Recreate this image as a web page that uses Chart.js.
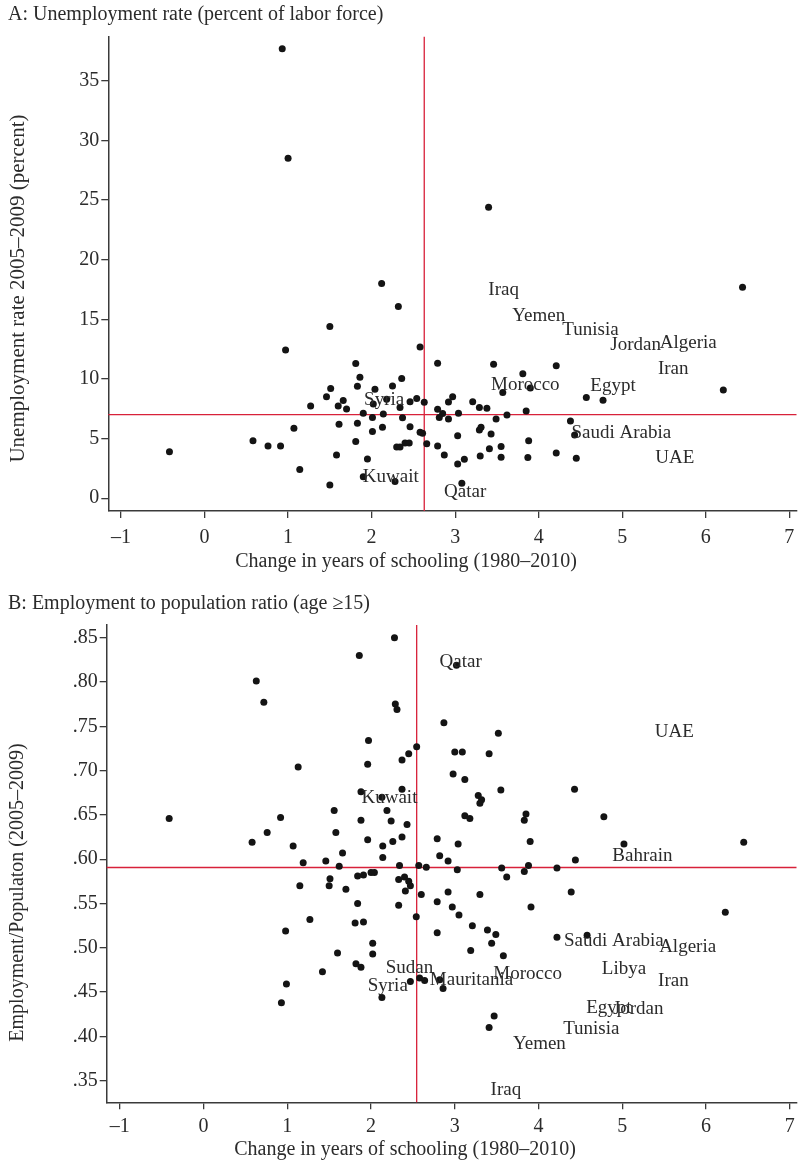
<!DOCTYPE html>
<html>
<head>
<meta charset="utf-8">
<script src="https://cdn.jsdelivr.net/npm/chart.js@4.4.1/dist/chart.umd.min.js"></script>
<style>
    html, body { margin: 0; padding: 0; background: #fff; }
    #wrap { position: relative; width: 800px; height: 1163px; }
    .panel { position: absolute; left: 0; width: 800px; }
    #panelA { top: 0; height: 575px; }
    #panelB { top: 575px; height: 588px; }
</style>
</head>
<body>
<div id="wrap">
    <div class="panel" id="panelA"><canvas id="chartA"></canvas></div>
    <div class="panel" id="panelB"><canvas id="chartB"></canvas></div>
</div>
<script>
// ---- Дані: панель A (безробіття) ----
const schoolA = [0.93,1.00,2.12,3.40,6.44,-0.42,0.58,0.76,0.91,0.97,1.07,1.14,1.27,1.50,1.50,1.46,1.51,1.58,1.60,1.61,1.66,1.70,1.81,1.81,1.83,1.83,1.86,1.90,1.90,1.95,2.01,2.01,2.04,2.02,2.13,2.14,2.18,2.25,2.28,2.30,2.34,2.40,2.45,2.32,2.58,2.36,2.34,2.46,2.54,2.63,2.37,2.46,2.58,2.61,2.66,2.79,3.46,4.21,3.81,3.57,3.90,2.97,2.92,3.21,3.29,3.38,2.79,2.85,2.81,2.92,3.04,3.49,3.62,3.85,2.79,3.03,3.29,3.31,3.43,3.41,3.55,3.88,2.87,3.03,3.11,3.30,3.55,3.87,4.21,3.08,4.38,4.43,4.45,4.57,4.77,6.21];
const unempA = [37.7,28.5,18.0,24.4,17.7,3.9,4.83,4.39,4.39,12.44,5.87,2.4,7.74,14.4,1.12,8.5,9.2,3.63,7.74,6.2,8.19,7.49,4.75,11.29,9.39,6.29,10.15,1.81,7.13,3.3,6.76,5.59,9.14,7.9,5.96,7.07,8.3,9.42,1.41,4.3,4.3,4.64,4.64,16.07,12.69,10.03,7.6,8.1,8.36,8.05,6.74,6.0,5.54,5.45,4.57,11.32,11.24,11.1,10.43,8.86,9.25,8.52,8.08,8.1,7.6,7.55,7.47,7.1,6.76,6.65,7.13,6.65,6.99,7.32,4.39,5.25,5.73,5.96,5.39,4.16,4.33,4.83,3.63,2.88,3.27,3.55,3.44,3.41,3.8,1.26,6.48,5.31,3.35,8.44,8.22,9.08];
const namesA = ['Iraq','Yemen','Tunisia','Jordan','Algeria','Iran','Morocco','Egypt','Saudi Arabia','UAE','Qatar','Kuwait','Syria'];
const labelSchoolA = [3.58,4.00,4.62,5.16,5.79,5.61,3.84,4.89,4.99,5.63,3.12,2.23,2.15];
const labelUnempA = [17.45,15.3,14.1,12.86,13.05,10.82,9.5,9.42,5.45,3.35,0.5,1.81,8.25];
const meanSchoolA = 2.63;
const meanUnempA = 7.01;
const yTicksA = [0,5,10,15,20,25,30,35];

// ---- Дані: панель B (зайнятість) ----
const schoolB = [-0.41,0.63,0.72,1.13,0.92,0.76,0.58,1.07,2.28,1.86,2.29,2.31,1.97,1.96,2.545,2.45,2.37,2.37,1.88,2.13,2.19,1.56,1.88,2.24,2.43,1.58,1.96,2.26,2.14,2.37,1.66,2.14,1.19,1.46,1.62,2.34,2.57,2.66,1.15,1.51,1.50,1.70,1.84,1.91,2.00,2.04,2.33,2.40,2.45,2.47,2.41,2.60,1.84,2.33,2.54,1.27,1.81,1.91,0.98,2.02,2.02,1.60,1.82,1.88,1.42,0.99,0.93,2.13,2.47,2.58,2.64,3.02,2.87,3.52,3.00,3.09,3.41,2.98,3.12,3.55,3.28,3.32,3.30,3.12,3.18,3.85,3.83,3.90,4.43,2.79,3.04,2.82,2.92,3.03,3.56,3.62,3.83,3.88,4.22,4.44,2.92,3.30,2.79,2.97,3.05,3.91,4.39,2.79,3.21,3.39,3.49,3.44,3.19,3.58,4.22,2.82,2.86,3.47,3.41,4.78,6.45,5.02,6.23,4.58];
const empB = [.646,.801,.777,.704,.647,.630,.619,.615,.850,.830,.775,.769,.734,.707,.727,.719,.712,.679,.676,.670,.655,.655,.644,.643,.639,.630,.622,.620,.615,.625,.607,.602,.596,.598,.592,.593,.593,.591,.570,.578,.570,.566,.581,.582,.585,.585,.577,.580,.575,.570,.564,.560,.550,.548,.535,.532,.528,.529,.519,.505,.493,.494,.482,.478,.473,.459,.438,.444,.462,.466,.463,.819,.754,.742,.721,.721,.719,.696,.690,.678,.672,.667,.663,.649,.646,.651,.644,.620,.679,.623,.617,.604,.598,.588,.590,.580,.586,.593,.590,.599,.563,.560,.552,.546,.537,.546,.563,.517,.525,.520,.515,.505,.497,.491,.512,.464,.454,.423,.410,.648,.619,.617,.540,.514];
const namesB = ['Qatar','UAE','Kuwait','Bahrain','Saudi Arabia','Algeria','Libya','Iran','Morocco','Mauritania','Sudan','Syria','Egypt','Jordan','Tunisia','Yemen','Iraq'];
const labelSchoolB = [3.07,5.62,2.22,5.24,4.90,5.78,5.02,5.61,3.87,3.20,2.46,2.20,4.84,5.19,4.63,4.01,3.61];
const labelEmpB = [.823,.743,.669,.604,.508,.501,.476,.463,.470,.464,.477,.457,.432,.431,.408,.391,.340];
const meanSchoolB = 2.545;
const meanEmpB = 0.5906;
const yTicksB = [.35,.40,.45,.50,.55,.60,.65,.70,.75,.80,.85];

const xTicks = [-1,0,1,2,3,4,5,6,7];

// ---- Стилі ----
const FONT = '"Liberation Serif", "Times New Roman", serif';
const TEXT_COLOR = '#2b2b2b';
const AXIS_COLOR = '#3a3a3a';
const DOT_COLOR = '#141414';
const RED = '#d8213a';

// Червоні лінії середніх значень
const refLinesPlugin = {
    id: 'refLines',
    beforeDatasetsDraw(chart, args, opts) {
        const { ctx, chartArea, scales } = chart;
        const px = scales.x.getPixelForValue(opts.x);
        const py = scales.y.getPixelForValue(opts.y);
        ctx.save();
        ctx.strokeStyle = RED;
        ctx.lineWidth = 1.3;
        ctx.beginPath();
        ctx.moveTo(px, chartArea.top);
        ctx.lineTo(px, chartArea.bottom);
        ctx.moveTo(chartArea.left, py);
        ctx.lineTo(chartArea.right, py);
        ctx.stroke();
        ctx.restore();
    }
};

// Назви країн у точках набору з names
const countryLabelsPlugin = {
    id: 'countryLabels',
    afterDatasetsDraw(chart) {
        const ctx = chart.ctx;
        chart.data.datasets.forEach((ds, i) => {
            if (!ds.names) return;
            const meta = chart.getDatasetMeta(i);
            ctx.save();
            ctx.font = '19px ' + FONT;
            ctx.fillStyle = TEXT_COLOR;
            ctx.textAlign = 'center';
            ctx.textBaseline = 'middle';
            meta.data.forEach((pt, j) => ctx.fillText(ds.names[j], pt.x, pt.y));
            ctx.restore();
        });
    }
};

// Заголовки панелі та осей
const panelTextPlugin = {
    id: 'panelText',
    afterDraw(chart, args, opts) {
        const ctx = chart.ctx;
        (opts.items || []).forEach(it => {
            ctx.save();
            ctx.font = it.size + 'px ' + FONT;
            ctx.fillStyle = TEXT_COLOR;
            ctx.textAlign = it.align || 'center';
            ctx.textBaseline = 'middle';
            ctx.translate(it.x, it.y);
            if (it.rotate) ctx.rotate(it.rotate);
            ctx.fillText(it.text, 0, 0);
            ctx.restore();
        });
    }
};

function makePanel(canvasId, cfg) {
    const dots = cfg.xs.map((x, i) => ({ x: x, y: cfg.ys[i] }));
    const labels = cfg.labelXs.map((x, i) => ({ x: x, y: cfg.labelYs[i] }));
    return new Chart(document.getElementById(canvasId).getContext('2d'), {
        type: 'scatter',
        data: {
            datasets: [
                { data: dots, pointRadius: 3.5, pointHoverRadius: 3.5, pointBackgroundColor: DOT_COLOR, pointBorderWidth: 0 },
                { data: labels, names: cfg.names, pointRadius: 0, pointHoverRadius: 0 }
            ]
        },
        options: {
            responsive: true,
            maintainAspectRatio: false,
            animation: false,
            events: [],
            layout: { padding: { top: cfg.top, left: 0, right: 0, bottom: 0 } },
            scales: {
                x: {
                    type: 'linear', min: cfg.xMin, max: cfg.xMax,
                    afterBuildTicks: s => { s.ticks = xTicks.map(v => ({ value: v })); },
                    afterFit: s => { s.height = cfg.xHeight; s.paddingLeft = 0; s.paddingRight = 0; },
                    grid: { drawOnChartArea: false, tickLength: 7, color: AXIS_COLOR, lineWidth: 1.3 },
                    border: { color: AXIS_COLOR, width: 1.5 },
                    ticks: {
                        color: TEXT_COLOR, font: { family: FONT, size: 20 }, padding: cfg.xPad,
                        maxRotation: 0, autoSkip: false,
                        callback: v => v < 0 ? '\u2013' + Math.abs(v) : String(v)
                    }
                },
                y: {
                    type: 'linear', min: cfg.yMin, max: cfg.yMax,
                    afterBuildTicks: s => { s.ticks = cfg.yTicks.map(v => ({ value: v })); },
                    afterFit: s => { s.width = cfg.yWidth; s.paddingTop = 0; s.paddingBottom = 0; },
                    grid: { drawOnChartArea: false, tickLength: 7, color: AXIS_COLOR, lineWidth: 1.3 },
                    border: { color: AXIS_COLOR, width: 1.5 },
                    ticks: {
                        color: TEXT_COLOR, font: { family: FONT, size: 20 }, padding: 2,
                        autoSkip: false, callback: cfg.yFormat
                    }
                }
            },
            plugins: {
                legend: { display: false },
                tooltip: { enabled: false },
                refLines: { x: cfg.meanX, y: cfg.meanY },
                panelText: { items: cfg.texts }
            }
        },
        plugins: [refLinesPlugin, countryLabelsPlugin, panelTextPlugin]
    });
}

makePanel('chartA', {
    xs: schoolA, ys: unempA, names: namesA, labelXs: labelSchoolA, labelYs: labelUnempA,
    meanX: meanSchoolA, meanY: meanUnempA,
    xMin: -1.152, xMax: 7.086, yMin: -1.07, yMax: 38.7, yTicks: yTicksA,
    yFormat: v => String(v),
    top: 36.7, yWidth: 108.3, xHeight: 64, xPad: 8,
    texts: [
        { text: 'A: Unemployment rate (percent of labor force)', x: 8, y: 15, size: 20, align: 'left' },
        { text: 'Change in years of schooling (1980\u20132010)', x: 406, y: 561.7, size: 20 },
        { text: 'Unemployment rate 2005\u20132009 (percent)', x: 18, y: 288.5, size: 21, rotate: -Math.PI / 2 }
    ]
});

makePanel('chartB', {
    xs: schoolB, ys: empB, names: namesB, labelXs: labelSchoolB, labelYs: labelEmpB,
    meanX: meanSchoolB, meanY: meanEmpB,
    xMin: -1.156, xMax: 7.08, yMin: 0.3256, yMax: 0.8643, yTicks: yTicksB,
    yFormat: v => v.toFixed(2).replace(/^0/, ''),
    top: 50, yWidth: 106.7, xHeight: 60.7, xPad: 5,
    texts: [
        { text: 'B: Employment to population ratio (age \u226515)', x: 8, y: 28.3, size: 20, align: 'left' },
        { text: 'Change in years of schooling (1980\u20132010)', x: 405, y: 575, size: 20 },
        { text: 'Employment/Populaton (2005\u20132009)', x: 18, y: 317.5, size: 20, rotate: -Math.PI / 2 }
    ]
});
</script>
</body>
</html>
